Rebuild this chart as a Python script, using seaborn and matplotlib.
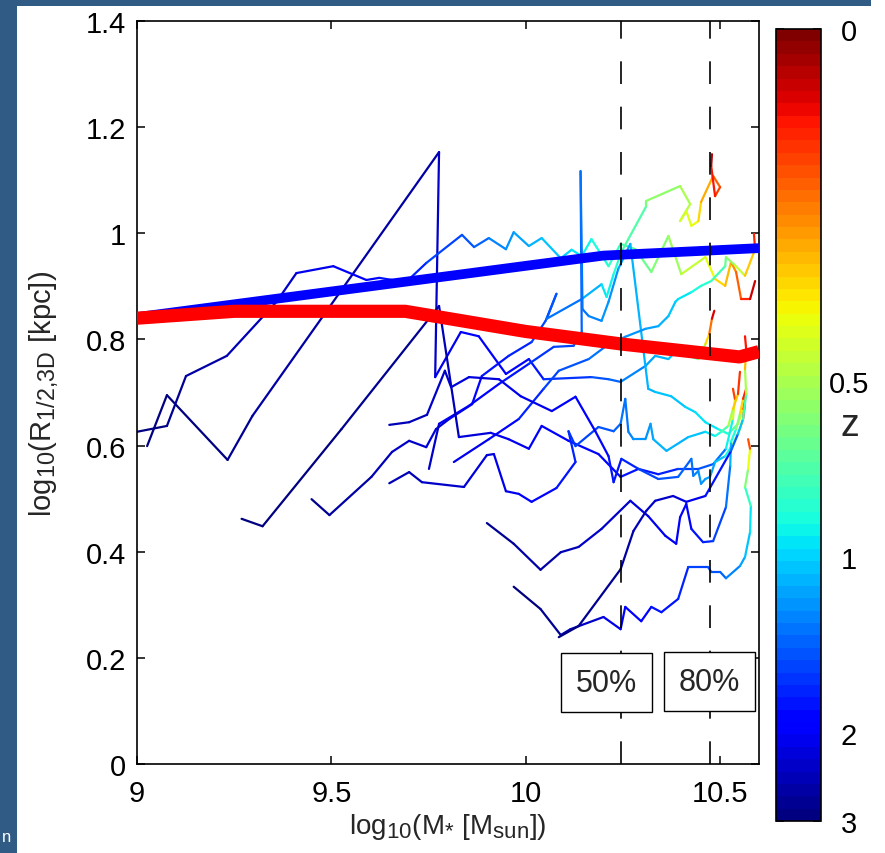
import numpy as np
import pandas as pd
import matplotlib
matplotlib.use("Agg")
import matplotlib.pyplot as plt
import seaborn as sns
from matplotlib.collections import LineCollection
from matplotlib.colors import Normalize
from matplotlib.patches import Rectangle
try:
    import matplotlib._mathtext as _mt
    _mt.SHRINK_FACTOR = 0.8
except Exception:
    pass

# ---------------- data ----------------
# median relations (thick lines)
blue_logm = [9.0, 10.2, 10.6]
blue_logr = [0.842, 0.958, 0.972]
red_logm = [9.0, 9.25, 9.69, 10.0, 10.25, 10.55, 10.6]
red_logr = [0.840, 0.853, 0.853, 0.815, 0.791, 0.767, 0.777]

# mass-completeness markers
mark_logm = [10.244, 10.474]
mark_text = ["50%", "80%"]

# colorbar ticks (redshift)
cbar_z_ticks = [0, 0.5, 1, 2, 3]
cbar_z_labels = ["0", "0.5", "1", "2", "3"]

# x / y ticks
x_ticks = [9, 9.5, 10, 10.5]
x_ticklabels = ["9", "9.5", "10", "10.5"]
y_ticks = [0, 0.2, 0.4, 0.6, 0.8, 1.0, 1.2, 1.4]
y_ticklabels = ["0", "0.2", "0.4", "0.6", "0.8", "1", "1.2", "1.4"]

# individual galaxy tracks: log stellar mass, log half-mass radius, redshift
track_a_logm = [9.026, 9.077, 9.233, 9.297, 9.777, 9.767, 9.833, 9.879, 9.949, 10.008, 10.046, 10.169, 10.213, 10.244, 10.308, 10.333, 10.367, 10.392, 10.418, 10.444, 10.462, 10.472, 10.479, 10.485]
track_a_logr = [0.599, 0.695, 0.573, 0.656, 1.153, 0.729, 0.814, 0.806, 0.735, 0.763, 0.725, 0.729, 0.725, 0.720, 0.750, 0.769, 0.763, 0.782, 0.769, 0.763, 0.791, 0.810, 0.839, 0.854]
track_a_z = [2.9, 2.85, 2.8, 2.75, 2.5, 2.1, 2.0, 1.95, 1.9, 1.8, 1.75, 1.5, 1.4, 1.3, 1.2, 1.1, 1.05, 1.0, 0.9, 0.6, 0.4, 0.25, 0.12, 0.03]

track_b_logm = [9.000, 9.077, 9.126, 9.231, 9.359, 9.410, 9.505, 9.590, 9.623, 9.692, 9.744, 9.836, 9.867, 9.905, 9.949, 9.969, 10.008, 10.041, 10.090, 10.118, 10.144, 10.169, 10.182, 10.213, 10.244, 10.282, 10.323, 10.367, 10.400, 10.462, 10.487, 10.513, 10.528, 10.541, 10.554, 10.577, 10.590]
track_b_logr = [0.626, 0.637, 0.731, 0.769, 0.871, 0.925, 0.938, 0.912, 0.916, 0.908, 0.944, 0.997, 0.974, 0.991, 0.970, 1.002, 0.976, 0.991, 0.953, 0.969, 0.957, 0.989, 0.974, 0.938, 0.980, 0.970, 0.927, 0.995, 0.923, 0.955, 0.914, 0.901, 0.946, 0.927, 0.876, 0.876, 0.910]
track_b_z = [2.9, 2.8, 2.6, 2.5, 2.3, 2.2, 2.0, 1.9, 1.85, 1.75, 1.6, 1.45, 1.4, 1.3, 1.25, 1.2, 1.1, 1.05, 1.0, 0.95, 0.92, 0.88, 0.86, 0.83, 0.75, 0.7, 0.62, 0.55, 0.5, 0.42, 0.35, 0.3, 0.25, 0.2, 0.15, 0.08, 0.03]

track_c_logm = [9.449, 9.495, 9.603, 9.656, 9.700, 9.744, 9.769, 9.803, 9.862, 9.887, 9.956, 10.015, 10.051, 10.079, 10.054, 10.144, 10.195, 10.208, 10.226, 10.246, 10.310, 10.310, 10.397, 10.423, 10.397, 10.413, 10.426, 10.444, 10.451, 10.482, 10.500, 10.487, 10.477, 10.479]
track_c_logr = [0.499, 0.469, 0.541, 0.588, 0.609, 0.597, 0.631, 0.650, 0.678, 0.731, 0.769, 0.795, 0.835, 0.886, 0.839, 0.876, 0.904, 0.880, 0.923, 0.965, 1.051, 1.061, 1.089, 1.055, 1.023, 1.042, 1.014, 1.023, 1.059, 1.108, 1.087, 1.070, 1.127, 1.149]
track_c_z = [2.7, 2.65, 2.5, 2.4, 2.3, 2.25, 2.2, 2.1, 1.95, 1.85, 1.7, 1.6, 1.5, 1.45, 1.4, 1.2, 0.95, 0.92, 0.88, 0.78, 0.62, 0.6, 0.52, 0.48, 0.45, 0.42, 0.4, 0.35, 0.3, 0.2, 0.15, 0.12, 0.06, 0.02]

track_d_logm = [9.751, 9.777, 9.854, 9.931, 10.008, 10.072, 10.123, 10.144, 10.141, 10.146, 10.162, 10.195, 10.213, 10.238, 10.269, 10.315, 10.333, 10.374, 10.410, 10.436, 10.462, 10.495, 10.521, 10.546, 10.559, 10.567]
track_d_logr = [0.556, 0.641, 0.675, 0.716, 0.754, 0.786, 0.788, 0.814, 1.117, 0.857, 0.844, 0.835, 0.871, 0.933, 0.980, 0.707, 0.701, 0.693, 0.673, 0.663, 0.644, 0.631, 0.622, 0.641, 0.669, 0.697]
track_d_z = [2.3, 2.2, 2.0, 1.85, 1.7, 1.55, 1.45, 1.4, 1.35, 1.3, 1.28, 1.25, 1.2, 1.15, 1.1, 1.08, 1.06, 1.04, 1.0, 0.98, 0.95, 0.9, 0.8, 0.55, 0.3, 0.05]

track_e_logm = [9.815, 9.905, 9.982, 10.046, 10.085, 10.162, 10.213, 10.256, 10.308, 10.341, 10.367, 10.385, 10.392, 10.426, 10.451, 10.477, 10.513, 10.515, 10.538, 10.564, 10.590, 10.587]
track_e_logr = [0.569, 0.612, 0.650, 0.707, 0.741, 0.763, 0.791, 0.805, 0.820, 0.825, 0.844, 0.871, 0.876, 0.889, 0.901, 0.910, 0.938, 0.955, 0.940, 0.920, 0.970, 0.999]
track_e_z = [2.1, 1.95, 1.8, 1.6, 1.5, 1.35, 1.25, 1.2, 1.15, 1.1, 1.05, 1.0, 0.95, 0.9, 0.85, 0.8, 0.7, 0.6, 0.5, 0.4, 0.2, 0.02]

track_f_logm = [9.269, 9.323, 9.526, 9.777, 9.828, 9.910, 9.956, 10.008, 10.041, 10.110, 10.187, 10.244, 10.290, 10.341, 10.392, 10.444, 10.482, 10.515, 10.533, 10.538, 10.533]
track_f_logr = [0.462, 0.448, 0.631, 0.863, 0.616, 0.624, 0.612, 0.594, 0.637, 0.609, 0.584, 0.541, 0.556, 0.546, 0.556, 0.556, 0.565, 0.594, 0.650, 0.688, 0.707]
track_f_z = [2.95, 2.9, 2.8, 2.6, 2.2, 2.1, 2.05, 2.0, 1.95, 1.9, 1.85, 1.8, 1.75, 1.7, 1.6, 1.5, 1.4, 1.2, 0.6, 0.25, 0.03]

track_g_logm = [9.649, 9.700, 9.733, 9.841, 9.900, 9.918, 9.949, 9.982, 10.015, 10.079, 10.128, 10.110, 10.128, 10.187, 10.226, 10.244, 10.256, 10.264, 10.277, 10.308, 10.321, 10.328, 10.362, 10.418, 10.462, 10.487, 10.503, 10.521, 10.533, 10.546, 10.551]
track_g_logr = [0.529, 0.550, 0.531, 0.522, 0.582, 0.584, 0.514, 0.509, 0.494, 0.520, 0.569, 0.627, 0.599, 0.635, 0.627, 0.641, 0.688, 0.626, 0.612, 0.612, 0.641, 0.612, 0.590, 0.616, 0.626, 0.618, 0.626, 0.637, 0.669, 0.697, 0.739]
track_g_z = [2.5, 2.45, 2.4, 2.25, 2.15, 2.1, 2.05, 2.0, 1.95, 1.85, 1.75, 1.65, 1.55, 1.45, 1.4, 1.35, 1.3, 1.28, 1.25, 1.2, 1.15, 1.12, 1.1, 1.05, 1.0, 0.9, 0.8, 0.6, 0.4, 0.2, 0.05]

track_h_logm = [9.649, 9.700, 9.746, 9.792, 9.808, 9.854, 9.931, 9.987, 10.067, 10.128, 10.179, 10.213, 10.226, 10.246, 10.290, 10.341, 10.392, 10.426, 10.431, 10.444, 10.451, 10.462, 10.474, 10.487, 10.513, 10.533, 10.551, 10.559, 10.564]
track_h_logr = [0.639, 0.644, 0.658, 0.741, 0.710, 0.729, 0.725, 0.693, 0.665, 0.692, 0.627, 0.580, 0.531, 0.575, 0.556, 0.537, 0.541, 0.575, 0.543, 0.552, 0.528, 0.537, 0.541, 0.569, 0.580, 0.603, 0.631, 0.650, 0.678]
track_h_z = [2.5, 2.45, 2.4, 2.3, 2.25, 2.2, 2.1, 2.05, 2.0, 1.95, 1.9, 1.8, 1.75, 1.7, 1.6, 1.5, 1.4, 1.3, 1.28, 1.25, 1.2, 1.18, 1.15, 1.1, 1.0, 0.7, 0.4, 0.2, 0.03]

track_i_logm = [9.900, 9.969, 10.038, 10.090, 10.136, 10.195, 10.269, 10.315, 10.359, 10.387, 10.397, 10.413, 10.426, 10.456, 10.482, 10.515, 10.526, 10.528, 10.541, 10.551, 10.559, 10.567]
track_i_logr = [0.454, 0.415, 0.366, 0.399, 0.409, 0.443, 0.496, 0.467, 0.430, 0.415, 0.465, 0.490, 0.443, 0.418, 0.420, 0.484, 0.562, 0.607, 0.631, 0.660, 0.688, 0.707]
track_i_z = [2.7, 2.65, 2.6, 2.5, 2.4, 2.3, 2.2, 2.1, 2.05, 2.0, 1.95, 1.9, 1.85, 1.75, 1.6, 1.4, 1.2, 1.0, 0.7, 0.45, 0.2, 0.03]

track_j_logm = [9.969, 10.038, 10.090, 10.115, 10.200, 10.244, 10.256, 10.297, 10.323, 10.349, 10.392, 10.418, 10.469, 10.477, 10.500, 10.515, 10.551, 10.564, 10.577, 10.579, 10.564, 10.572, 10.577, 10.572]
track_j_logr = [0.334, 0.292, 0.243, 0.254, 0.277, 0.254, 0.296, 0.269, 0.296, 0.286, 0.311, 0.371, 0.371, 0.362, 0.362, 0.350, 0.373, 0.390, 0.437, 0.486, 0.522, 0.556, 0.594, 0.612]
track_j_z = [2.9, 2.8, 2.6, 2.4, 2.1, 2.0, 1.95, 1.85, 1.8, 1.75, 1.7, 1.6, 1.5, 1.45, 1.4, 1.35, 1.2, 1.1, 1.0, 0.9, 0.7, 0.5, 0.25, 0.05]

track_k_logm = [10.085, 10.136, 10.244, 10.277, 10.310, 10.333, 10.379, 10.413, 10.462, 10.528, 10.546, 10.559, 10.567, 10.564, 10.567, 10.564]
track_k_logr = [0.239, 0.260, 0.367, 0.439, 0.477, 0.496, 0.505, 0.494, 0.505, 0.590, 0.622, 0.650, 0.697, 0.744, 0.782, 0.806]
track_k_z = [3.0, 2.9, 2.6, 2.5, 2.4, 2.3, 2.2, 2.1, 2.0, 1.5, 1.2, 0.9, 0.6, 0.4, 0.15, 0.03]

tracks = [
    (track_a_logm, track_a_logr, track_a_z),
    (track_b_logm, track_b_logr, track_b_z),
    (track_c_logm, track_c_logr, track_c_z),
    (track_d_logm, track_d_logr, track_d_z),
    (track_e_logm, track_e_logr, track_e_z),
    (track_f_logm, track_f_logr, track_f_z),
    (track_g_logm, track_g_logr, track_g_z),
    (track_h_logm, track_h_logr, track_h_z),
    (track_i_logm, track_i_logr, track_i_z),
    (track_j_logm, track_j_logr, track_j_z),
    (track_k_logm, track_k_logr, track_k_z),
]

# ---------------- style ----------------
sns.set_style("ticks")
plt.rcParams["font.family"] = ["Liberation Sans", "DejaVu Sans"]
plt.rcParams["mathtext.fontset"] = "custom"
plt.rcParams["mathtext.rm"] = "Liberation Sans"
plt.rcParams["mathtext.it"] = "Liberation Sans:italic"
plt.rcParams["mathtext.default"] = "regular"

FS = 21
W, H = 885, 854
fig = plt.figure(figsize=(W / 100, H / 100), dpi=100, facecolor="white")

# slide background strips
slide_blue = "#2f5b84"
fig.patches.append(Rectangle((0, 0), 17 / W, 1, transform=fig.transFigure,
                             facecolor=slide_blue, edgecolor="none", zorder=-5))
fig.patches.append(Rectangle((0, 1 - 7 / H), 871 / W, 7 / H, transform=fig.transFigure,
                             facecolor=slide_blue, edgecolor="none", zorder=-5))
fig.text(2 / W, 1 - 838 / H, "n", color="white", fontsize=12, ha="left", va="center")

ax = fig.add_axes([137 / W, 1 - 765 / H, 622 / W, 743 / H])
cax = fig.add_axes([776 / W, 1 - 822 / H, 45 / W, 792 / H])

cmap = plt.get_cmap("jet", 64)
norm = Normalize(vmin=0.25, vmax=1.0)  # scale factor a = 1/(1+z)

# tracks coloured by scale factor
for m, r, z in tracks:
    pts = np.column_stack([m, r])
    segs = np.stack([pts[:-1], pts[1:]], axis=1)
    zz = np.asarray(z, dtype=float)
    a = 1.0 / (1.0 + 0.5 * (zz[:-1] + zz[1:]))
    lc = LineCollection(segs, cmap=cmap, norm=norm, linewidths=1.6,
                        capstyle="round", joinstyle="round", zorder=2)
    lc.set_array(a)
    ax.add_collection(lc)

# median lines
sns.lineplot(x=blue_logm, y=blue_logr, color=(0, 0, 1), lw=7, ax=ax,
             estimator=None, sort=False, zorder=3, solid_capstyle="butt")
sns.lineplot(x=red_logm, y=red_logr, color=(1, 0, 0), lw=9.5, ax=ax,
             estimator=None, sort=False, zorder=3.1, solid_capstyle="butt")

# completeness markers
for xm in mark_logm:
    ax.axvline(xm, color="black", lw=1.2, dashes=(13.6, 13.6), zorder=4)

label_pos = [(10.208, 0.153), (10.472, 0.155)]
for (tx, ty), t in zip(label_pos, mark_text):
    ax.text(tx, ty, t, fontsize=22, ha="center", va="center", zorder=6,
            bbox=dict(boxstyle="square,pad=0.48", fc="white", ec="black", lw=1.0))

ax.set_xlim(9, 10.6)
ax.set_ylim(0, 1.4)
ax.set_xticks(x_ticks)
ax.set_xticklabels(x_ticklabels)
ax.set_yticks(y_ticks)
ax.set_yticklabels(y_ticklabels)
ax.tick_params(direction="in", length=6, width=1.1, top=True, right=True,
               labelsize=FS, colors="black")
ax.tick_params(axis="x", pad=11)
ax.tick_params(axis="y", pad=8)
for s in ax.spines.values():
    s.set_linewidth(1.2)
    s.set_color("black")
ax.set_facecolor("white")

ax.set_xlabel(r"log$_{10}$(M$_{*}$ [M$_{sun}$])", fontsize=20)
ax.set_ylabel(r"log$_{10}$(R$_{1/2{,}3D}$ [kpc])", fontsize=21)
ax.xaxis.set_label_coords(0.5, -0.063)
ax.yaxis.set_label_coords(-0.122, 0.5)

# colorbar
sm = plt.cm.ScalarMappable(norm=norm, cmap=cmap)
cb = fig.colorbar(sm, cax=cax)
cb.set_ticks([1.0 / (1.0 + zt) for zt in cbar_z_ticks])
cb.set_ticklabels(cbar_z_labels)
cax.tick_params(direction="in", length=6, width=1.1, left=True, right=True,
                labelsize=FS, pad=20, colors="black")
for lbl in cax.get_yticklabels():
    lbl.set_horizontalalignment("center")
cb.outline.set_linewidth(1.2)
cb.outline.set_edgecolor("black")
cax.text(1.64, 0.5, "z", transform=cax.transAxes, fontsize=27,
         ha="center", va="center")

fig.savefig("out.png", dpi=100, facecolor="white")
